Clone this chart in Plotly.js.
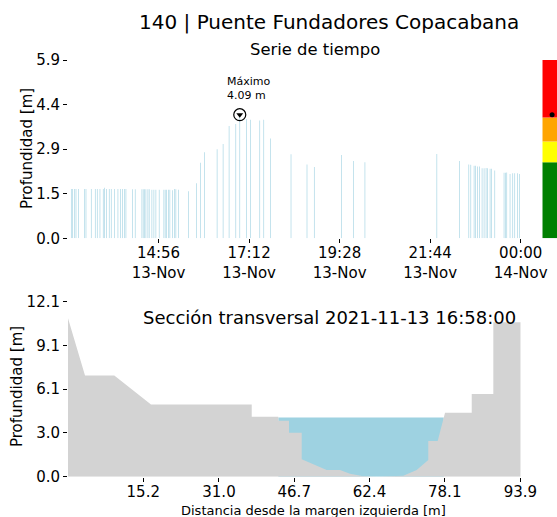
<!DOCTYPE html>
<html><head><meta charset="utf-8">
<script src="https://cdn.plot.ly/plotly-3.0.1.min.js"></script>
<style>html,body{margin:0;padding:0;background:#fff;} #chart{width:557px;height:517px;}</style>
</head><body><div id="chart"></div>
<script>
const stationTitle = '140 | Puente Fundadores Copacabana';
const seriesTitle = 'Serie de tiempo';
const sectionTime = '2021-11-13 16:58';
const sectionLabel = 'Sección transversal 2021-11-13 16:58:00';
const depthLabel = 'Profundidad [m]';
const distLabel = 'Distancia desde la margen izquierda [m]';

const times = [
 '2021-11-13 12:45','2021-11-13 12:47','2021-11-13 12:50','2021-11-13 12:52','2021-11-13 12:56',
 '2021-11-13 13:05','2021-11-13 13:07','2021-11-13 13:15','2021-11-13 13:21','2021-11-13 13:24',
 '2021-11-13 13:28','2021-11-13 13:33','2021-11-13 13:35','2021-11-13 13:38','2021-11-13 13:42',
 '2021-11-13 13:45','2021-11-13 13:50','2021-11-13 13:55','2021-11-13 13:59','2021-11-13 14:02',
 '2021-11-13 14:05','2021-11-13 14:07','2021-11-13 14:17','2021-11-13 14:21','2021-11-13 14:31',
 '2021-11-13 14:33','2021-11-13 14:35','2021-11-13 14:37','2021-11-13 14:40','2021-11-13 14:42',
 '2021-11-13 14:46','2021-11-13 14:49','2021-11-13 14:52','2021-11-13 14:57','2021-11-13 15:04',
 '2021-11-13 15:06','2021-11-13 15:08','2021-11-13 15:11','2021-11-13 15:13','2021-11-13 15:17',
 '2021-11-13 15:20','2021-11-13 15:22','2021-11-13 15:26','2021-11-13 15:41','2021-11-13 15:53',
 '2021-11-13 15:59','2021-11-13 16:05','2021-11-13 16:24','2021-11-13 16:33','2021-11-13 16:42',
 '2021-11-13 16:52','2021-11-13 16:58','2021-11-13 17:08','2021-11-13 17:14','2021-11-13 17:28',
 '2021-11-13 17:34','2021-11-13 17:44','2021-11-13 18:15','2021-11-13 18:39','2021-11-13 18:50',
 '2021-11-13 19:31','2021-11-13 19:49','2021-11-13 20:06','2021-11-13 21:54','2021-11-13 22:28',
 '2021-11-13 22:42','2021-11-13 22:45','2021-11-13 22:50','2021-11-13 22:52','2021-11-13 22:55',
 '2021-11-13 22:58','2021-11-13 23:02','2021-11-13 23:05','2021-11-13 23:08','2021-11-13 23:10',
 '2021-11-13 23:14','2021-11-13 23:16','2021-11-13 23:21','2021-11-13 23:35','2021-11-13 23:37',
 '2021-11-13 23:39','2021-11-13 23:44','2021-11-13 23:48','2021-11-13 23:51','2021-11-13 23:55',
 '2021-11-13 23:58'
];
const depths = [
 1.63,1.63,1.63,1.63,1.63,
 1.63,1.63,1.63,1.63,1.63,
 1.63,1.63,1.67,1.63,1.63,
 1.63,1.63,1.63,1.63,1.63,
 1.63,1.63,1.62,1.62,1.62,
 1.62,1.62,1.62,1.62,1.62,
 1.61,1.61,1.61,1.61,1.61,
 1.61,1.61,1.61,1.61,1.59,
 1.63,1.62,1.61,1.56,1.82,
 2.50,2.85,2.95,3.12,3.72,
 3.78,4.09,3.95,3.92,3.90,
 3.92,3.30,2.78,2.44,2.36,
 2.76,2.56,2.52,2.79,2.56,
 2.44,2.43,2.40,2.40,2.38,
 2.38,2.32,2.32,2.33,2.32,
 2.30,2.30,2.24,2.17,2.17,
 2.18,2.13,2.15,2.15,2.15,
 2.13
];
const timeRange = ['2021-11-13 12:40','2021-11-14 00:00'];
const timeTickVals = ['2021-11-13 14:56','2021-11-13 17:12','2021-11-13 19:28','2021-11-13 21:44','2021-11-14 00:00'];
const timeTickText = ['14:56<br>13-Nov','17:12<br>13-Nov','19:28<br>13-Nov','21:44<br>13-Nov','00:00<br>14-Nov'];
const depthTickVals = [0, 1.475, 2.95, 4.425, 5.9];
const depthTickText = ['0.0','1.5','2.9','4.4','5.9'];

const alertUpper = [2.52, 3.2, 4.0, 5.9];
const alertColors = ['#008000','#ffff00','#ffa500','#ff0000'];

const bedDistance = [-0.5, 3.05, 9.16, 16.82, 37.83, 37.83, 43.38, 43.38, 45.61, 45.61, 48.26, 48.26,
  53.47, 56.25, 58.34, 60.84, 63.9, 67.1, 69.46, 72.25, 74.67, 74.67, 76.63, 78.16, 83.73, 83.73,
  88.24, 88.24, 93.95];
const bedElevation = [10.96, 7.0, 7.0, 5.0, 5.0, 4.15, 4.15, 3.87, 3.87, 3.04, 3.04, 1.2,
  0.46, 0.46, 0.2, 0.05, 0.0, 0.03, 0.07, 0.46, 1.15, 2.47, 2.47, 4.43, 4.43, 5.72,
  5.72, 10.68, 10.68];
const waterLevel = 4.09;
const distRange = [-0.5, 93.95];
const distTickVals = [15.2, 31.0, 46.7, 62.4, 78.1, 93.9];
const sectionTickVals = [0, 3.025, 6.05, 9.075, 12.1];
const sectionTickText = ['0.0','3.0','6.1','9.1','12.1'];

// derived
let iMax = 0;
depths.forEach((d,i)=>{ if(d>depths[iMax]) iMax=i; });
const maxTime = times[iMax], maxVal = depths[iMax];
const currentVal = depths[times.indexOf(sectionTime)];

const crossings = [];
for (let i=0;i<bedDistance.length-1;i++){
  const y0=bedElevation[i], y1=bedElevation[i+1];
  if ((y0-waterLevel)*(y1-waterLevel) < 0){
    const f=(waterLevel-y0)/(y1-y0);
    crossings.push(bedDistance[i]+f*(bedDistance[i+1]-bedDistance[i]));
  }
}
const wetStart = crossings[0], wetEnd = crossings[crossings.length-1];

const FONT = 'DejaVu Sans, sans-serif';
const traces = [];
traces.push({type:'bar', x:times, y:depths, width:65000, marker:{color:'#add8e6', line:{width:0}},
  xaxis:'x', yaxis:'y', hoverinfo:'skip'});
traces.push({type:'scatter', mode:'markers', x:[maxTime], y:[maxVal], xaxis:'x', yaxis:'y', cliponaxis:false,
  marker:{symbol:'circle-open', size:12, color:'#000', line:{width:1.2, color:'#000'}}});
traces.push({type:'scatter', mode:'markers', x:[maxTime], y:[maxVal], xaxis:'x', yaxis:'y', cliponaxis:false,
  marker:{symbol:'triangle-down', size:6, color:'#000'}});
alertUpper.forEach((u,i)=>{
  const lo = i===0 ? 0 : alertUpper[i-1];
  traces.push({type:'bar', x:[0.5], y:[u-lo], base:[lo], width:1, marker:{color:alertColors[i], line:{width:0}},
    xaxis:'x3', yaxis:'y3', hoverinfo:'skip'});
});
traces.push({type:'scatter', mode:'markers', x:[0.5], y:[currentVal], xaxis:'x3', yaxis:'y3', cliponaxis:false,
  marker:{size:5, color:'#000'}});
traces.push({type:'scatter', mode:'lines', x:[wetStart, wetEnd], y:[waterLevel, waterLevel], fill:'tozeroy',
  fillcolor:'#9ed2e1', line:{width:0, color:'#9ed2e1'}, xaxis:'x2', yaxis:'y2'});
traces.push({type:'scatter', mode:'lines', x:bedDistance, y:bedElevation, fill:'tozeroy',
  fillcolor:'#d3d3d3', line:{width:0, color:'#d3d3d3'}, xaxis:'x2', yaxis:'y2'});

const axCommon = {showgrid:false, zeroline:false, showline:false, ticks:'outside', ticklen:4, tickwidth:1,
  tickcolor:'#000', tickfont:{family:FONT, size:15, color:'#000'}, fixedrange:true};
const H = 517, L = 68, PW = 489;
const py = p => 1 - p/H;
const px = p => (p - L)/PW;

const layout = {
  width:557, height:517, margin:{l:L, r:0, t:0, b:0}, paper_bgcolor:'#fff', plot_bgcolor:'#fff',
  showlegend:false, barmode:'overlay', font:{family:FONT, color:'#000'},
  xaxis: Object.assign({}, axCommon, {domain:[0, px(520.7)], anchor:'y', type:'date', range:timeRange,
    tickmode:'array', tickvals:timeTickVals, ticktext:timeTickText, ticklabelstandoff:-3}),
  yaxis: Object.assign({}, axCommon, {domain:[py(238.3), py(60)], anchor:'x', range:[0,5.9],
    tickmode:'array', tickvals:depthTickVals, ticktext:depthTickText}),
  xaxis2: Object.assign({}, axCommon, {domain:[0, px(520.7)], anchor:'y2', range:distRange,
    tickmode:'array', tickvals:distTickVals, ticktext:distTickVals.map(v=>v.toFixed(1)), ticklabelstandoff:-3}),
  yaxis2: Object.assign({}, axCommon, {domain:[py(476.7), py(301.7)], anchor:'x2', range:[0,12.1],
    tickmode:'array', tickvals:sectionTickVals, ticktext:sectionTickText}),
  xaxis3: {domain:[px(542.3), 1], anchor:'y3', range:[0,0.75], visible:false, fixedrange:true},
  yaxis3: {domain:[py(238.3), py(60)], anchor:'x3', range:[0,5.9], visible:false, fixedrange:true},
  annotations:[
    {xref:'paper', yref:'paper', x:px(329), y:py(22), text:stationTitle, showarrow:false,
     xanchor:'center', yanchor:'middle', font:{family:FONT, size:20, color:'#000'}},
    {xref:'paper', yref:'paper', x:px(315), y:py(49), text:seriesTitle, showarrow:false,
     xanchor:'center', yanchor:'middle', font:{family:FONT, size:16.4, color:'#000'}},
    {xref:'paper', yref:'paper', x:px(329), y:py(317), text:sectionLabel, showarrow:false,
     xanchor:'center', yanchor:'middle', font:{family:FONT, size:18, color:'#000'}},
    {xref:'paper', yref:'paper', x:px(313), y:py(510), text:distLabel, showarrow:false,
     xanchor:'center', yanchor:'middle', font:{family:FONT, size:13, color:'#000'}},
    {xref:'paper', yref:'paper', x:px(27), y:py(149), text:depthLabel, showarrow:false, textangle:-90,
     xanchor:'center', yanchor:'middle', font:{family:FONT, size:15, color:'#000'}},
    {xref:'paper', yref:'paper', x:px(17), y:py(387), text:depthLabel, showarrow:false, textangle:-90,
     xanchor:'center', yanchor:'middle', font:{family:FONT, size:15, color:'#000'}},
    {xref:'x', yref:'y', x:maxTime, y:maxVal, text:'Máximo<br>' + maxVal.toFixed(2) + ' m', showarrow:false,
     xanchor:'left', yanchor:'bottom', align:'left', xshift:-15, yshift:11, font:{family:FONT, size:11, color:'#000'}}
  ]
};
Plotly.newPlot('chart', traces, layout, {displayModeBar:false, staticPlot:true});
</script></body></html>
